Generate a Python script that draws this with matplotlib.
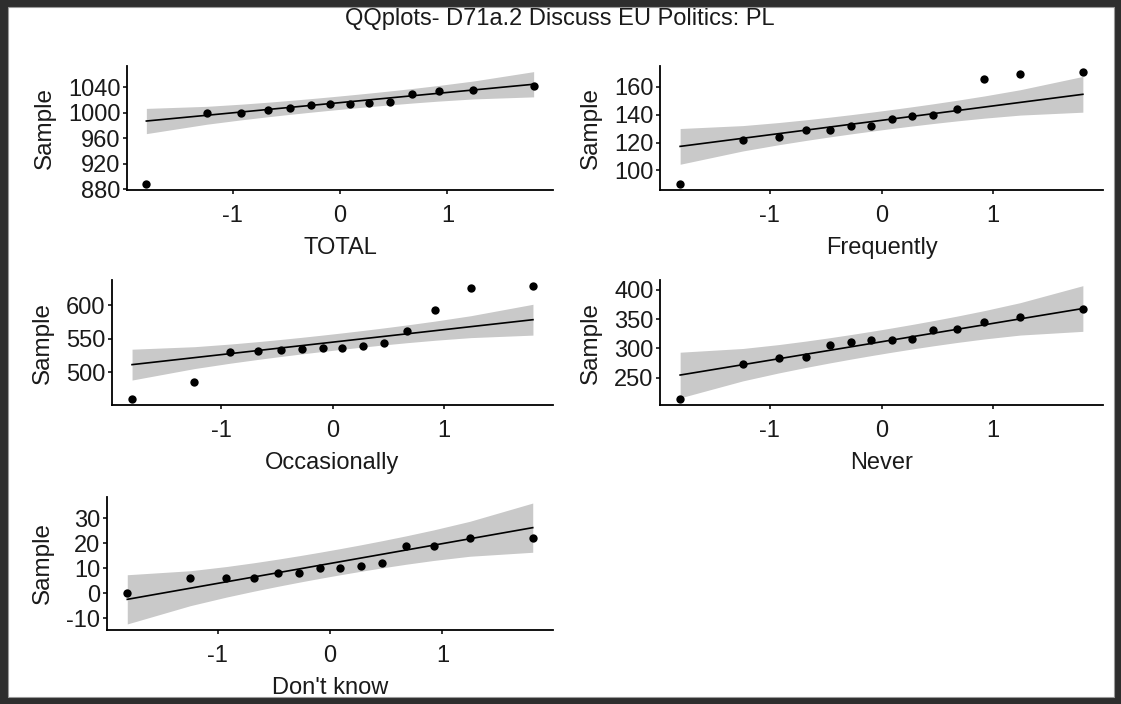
"""
QQ plots for D71a.2 Discuss EU Politics (PL), one panel per answer group
"""

from statistics import NormalDist

import numpy as np
import matplotlib

matplotlib.use("Agg")
import matplotlib.pyplot as plt  # noqa: E402
from matplotlib.patches import Rectangle  # noqa: E402

plt.rcParams["font.family"] = ["Liberation Sans", "DejaVu Sans"]

# sample values per group (14 countries/waves each)
total = [888, 999, 1000, 1004, 1008, 1012, 1013, 1013, 1015, 1016, 1030, 1034, 1035, 1042]
frequently = [90, 122, 124, 129, 129, 132, 132, 137, 139, 140, 144, 166, 169, 171]
occasionally = [460, 486, 530, 532, 534, 535, 537, 537, 539, 544, 562, 593, 626, 629]
never = [213, 273, 284, 285, 305, 311, 314, 314, 316, 331, 333, 345, 354, 367]
dont_know = [0, 6, 6, 6, 8, 8, 10, 10, 11, 12, 19, 19, 22, 22]

group_names = ["TOTAL", "Frequently", "Occasionally", "Never", "Don't know"]
group_values = [total, frequently, occasionally, never, dont_know]
y_ticks = [
    [880, 920, 960, 1000, 1040],
    [100, 120, 140, 160],
    [500, 550, 600],
    [250, 300, 350, 400],
    [-10, 0, 10, 20, 30],
]
x_ticks = [-1, 0, 1]

title = "QQplots- D71a.2 Discuss EU Politics: PL"

W, H = 1121, 704
# axes boxes in pixels: left, top, right, bottom
boxes = [
    (127, 66, 553, 190),
    (660, 66, 1103, 190),
    (112, 280, 553, 405),
    (660, 280, 1103, 405),
    (107, 497, 553, 630),
]


def qq_data(values, conf=0.95):
    """theoretical quantiles, qqline through quartiles and its confidence band"""
    y = np.sort(np.asarray(values, dtype=float))
    n = len(y)
    a = 0.375 if n <= 10 else 0.5
    p = (np.arange(1, n + 1) - a) / (n + 1 - 2 * a)
    nd = NormalDist()
    z = np.array([nd.inv_cdf(v) for v in p])
    q1, q3 = np.percentile(y, [25, 75])
    zq1, zq3 = nd.inv_cdf(0.25), nd.inv_cdf(0.75)
    slope = (q3 - q1) / (zq3 - zq1)
    intercept = q1 - slope * zq1
    fit = intercept + slope * z
    dens = np.array([nd.pdf(v) for v in z])
    se = (slope / dens) * np.sqrt(p * (1 - p) / n)
    zz = nd.inv_cdf(1 - (1 - conf) / 2)
    return z, y, fit, fit - zz * se, fit + zz * se


fig = plt.figure(figsize=(W / 100, H / 100), dpi=100, facecolor="#2e2e2e")

# white page inside the dark frame
fig.patches.append(
    Rectangle((8 / W, 7 / H), (W - 15) / W, (H - 14) / H, transform=fig.transFigure,
              facecolor="white", edgecolor="#9a9a9a", linewidth=0.8, zorder=-10)
)

fig.text(560 / W, 1 - 19 / H, title, ha="center", va="center", fontsize=17, color="#1a1a1a")

for name, vals, yt, (l, t, r, b) in zip(group_names, group_values, y_ticks, boxes):
    ax = fig.add_axes([l / W, 1 - b / H, (r - l) / W, (b - t) / H])
    ax.set_facecolor("none")

    z, y, fit, lo, hi = qq_data(vals)
    ax.fill_between(z, lo, hi, color="#c9c9c9", linewidth=0, zorder=1)
    ax.plot(z, fit, color="black", linewidth=1.2, zorder=2)
    ax.scatter(z, y, s=36, color="black", zorder=3, linewidths=0)

    xr = z.max() - z.min()
    ax.set_xlim(z.min() - 0.05 * xr, z.max() + 0.05 * xr)
    ymin = min(y.min(), lo.min())
    ymax = max(y.max(), hi.max())
    yr = ymax - ymin
    ax.set_ylim(ymin - 0.05 * yr, ymax + 0.05 * yr)

    ax.set_xticks(x_ticks)
    ax.set_xticklabels([str(v) for v in x_ticks])
    ax.set_yticks(yt)
    ax.set_yticklabels([str(v) for v in yt])

    for side in ["top", "right"]:
        ax.spines[side].set_visible(False)
    for side in ["left", "bottom"]:
        ax.spines[side].set_linewidth(1.3)
        ax.spines[side].set_color("black")
    ax.tick_params(axis="both", direction="out", length=3.2, width=1.1, color="black",
                   labelsize=17, labelcolor="#1a1a1a")
    ax.tick_params(axis="x", pad=7.5)
    ax.tick_params(axis="y", pad=1.5)

    ax.set_xlabel(name, fontsize=17, color="#1a1a1a", labelpad=7.5)
    ax.set_ylabel("Sample", fontsize=17.5, color="#1a1a1a", labelpad=9)

plt.savefig("out.png", dpi=100, facecolor=fig.get_facecolor())
plt.close(fig)
